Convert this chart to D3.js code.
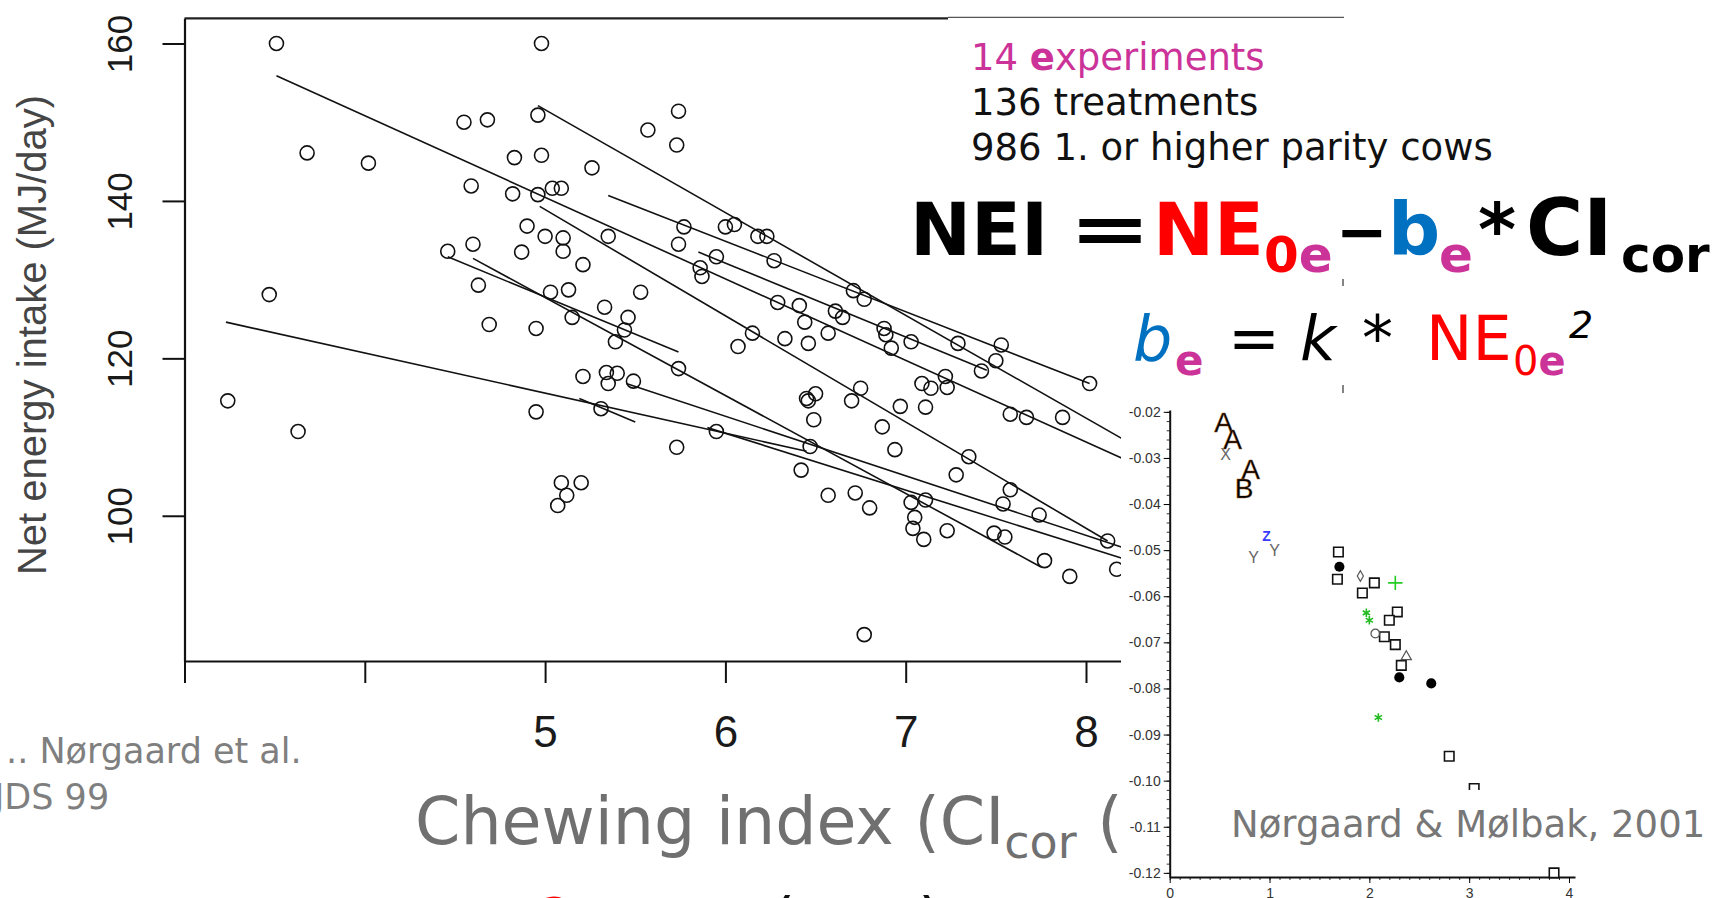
<!DOCTYPE html>
<html>
<head>
<meta charset="utf-8">
<script src="https://cdn.jsdelivr.net/npm/d3@7"></script>
<style>
  html, body { margin: 0; padding: 0; background: #fff; overflow: hidden; }
  svg { display: block; }
</style>
</head>
<body>
<div class="chart"></div>
<script>
// main plot: net energy intake vs chewing index, one circle per treatment
const ciValues = [
  3.51, 4.98, 3.68, 4.02, 3.47, 4.55, 4.68, 4.96, 5.57, 4.83, 4.98, 5.26, 4.59, 4.82, 4.96, 5.04, 5.09, 5.35, 4.90,
  5.00, 5.10, 5.10, 4.87, 4.46, 4.60, 5.21, 4.63, 5.03, 5.13, 5.53, 5.33, 5.46, 5.15, 4.69, 4.95, 5.44, 5.39,
  5.74, 5.73, 5.77, 5.74, 6.00, 6.05, 6.18, 6.23, 5.95, 6.27, 5.86, 5.87, 6.29, 6.41, 6.44, 6.61, 6.65, 6.71,
  6.77, 6.88, 6.89, 7.03, 7.29, 7.53, 6.15, 6.57, 6.33, 6.46, 6.07,
  6.92, 7.50, 8.02, 7.42, 7.22, 7.23, 7.09, 7.14, 7.11, 6.97, 6.75, 6.70, 7.58, 7.67, 7.87, 6.45, 6.50, 6.46,
  6.49, 6.87, 6.94, 7.35, 7.28, 7.58, 7.54, 7.74, 8.12, 8.17, 7.77, 7.91, 7.49, 7.55, 7.23, 7.10, 7.04, 7.05,
  7.03, 7.11, 6.80, 6.72, 6.57, 6.42, 6.47, 5.95, 5.73, 5.74, 6.77,
  3.24, 3.63, 4.95, 5.21, 5.34, 5.40, 5.35, 5.49, 5.31, 5.09, 5.20, 5.12, 5.07
];
const neiValues = [
  160.0, 160.0, 146.1, 144.8, 128.1, 150.0, 150.3, 150.9, 149.0, 145.5, 145.8, 144.2, 141.9, 140.9, 140.8, 141.6, 141.6, 135.5, 136.8,
  135.5, 135.3, 133.6, 133.5, 133.6, 134.5, 131.9, 129.3, 128.4, 128.7, 128.4, 126.5, 125.2, 125.2, 124.3, 123.8, 123.6, 122.1,
  151.4, 147.1, 136.7, 134.5, 136.7, 137.0, 135.5, 135.5, 132.9, 132.4, 131.5, 130.4, 127.1, 126.7, 124.6, 126.0, 125.2, 128.6,
  127.5, 123.8, 123.0, 122.1, 121.9, 121.7, 123.2, 123.2, 122.5, 121.9, 121.5,
  121.3, 119.7, 116.8, 118.4, 117.7, 116.3, 116.8, 116.2, 113.8, 113.9, 116.2, 114.6, 112.9, 112.5, 112.5, 114.9, 115.5, 114.6,
  112.2, 111.3, 108.4, 107.5, 105.2, 103.3, 101.5, 100.1, 96.8, 93.2, 94.3, 92.3, 97.8, 97.3, 98.1, 97.0, 98.4, 99.8,
  101.7, 102.0, 101.0, 102.9, 102.6, 105.8, 108.8, 110.7, 108.7, 118.7, 84.9,
  114.6, 110.7, 113.2, 117.7, 118.2, 118.1, 116.8, 117.1, 113.6, 104.2, 104.2, 102.6, 101.3
];
// within-experiment regressions: [ci start, nei start, ci end, nei end]
const fitLines = [
  [3.23, 124.6, 6.45, 108.2],
  [3.51, 155.9, 8.20, 107.3],
  [4.46, 132.9, 5.74, 120.8],
  [4.60, 132.7, 7.75, 93.5],
  [4.96, 152.1, 8.20, 109.8],
  [4.97, 139.3, 8.12, 96.8],
  [5.35, 140.7, 8.02, 116.8],
  [5.19, 114.9, 5.50, 111.9],
  [5.45, 116.8, 8.20, 96.0],
  [5.90, 111.2, 8.20, 94.6],
  [5.85, 133.5, 7.45, 118.5]
];
const neiTicks = [100, 120, 140, 160];
const ciTicks = [3, 4, 5, 6, 7, 8];
const ciTickLabels = ["", "", "5", "6", "7", "8"];

// inset: slope b vs NE0 (Nørgaard & Mølbak, 2001)
const insetLetters = [["A", 0.54, -0.0222], ["A", 0.63, -0.0258], ["A", 0.81, -0.0323], ["B", 0.745, -0.0366]];
const insetGreyLetters = [["X", 0.56, -0.0293], ["Y", 0.84, -0.0515], ["Y", 1.05, -0.0500]];
const insetBlueLetters = [["Z", 0.97, -0.0469]];
const insetSquares = [
  [1.69, -0.0504], [1.68, -0.0563], [1.93, -0.0593], [2.05, -0.0571], [2.28, -0.0634], [2.20, -0.0652],
  [2.15, -0.0688], [2.26, -0.0705], [2.32, -0.0750], [2.80, -0.0947], [3.05, -0.1017], [3.85, -0.1200]
];
const insetDots = [[1.70, -0.0536], [2.30, -0.0776], [2.62, -0.0789]];
const insetDiamonds = [[1.91, -0.0556]];
const insetRings = [[2.06, -0.0681]];
const insetTriangles = [[2.37, -0.0731]];
const insetPlus = [[2.26, -0.0571]];
const insetStars = [[1.97, -0.0636], [2.00, -0.0652], [2.09, -0.0863]];
const insetXTicks = [0, 1, 2, 3, 4];
const insetYTicks = [-0.02, -0.03, -0.04, -0.05, -0.06, -0.07, -0.08, -0.09, -0.10, -0.11, -0.12];

const magenta = "#cc3399", red = "#ff0000", blue = "#0070c0";

drawChart(document.querySelector(".chart"));

function drawChart(container) {
  let width = 1714, height = 898;
  let svg = d3.select(container).append("svg")
    .attr("width", width)
    .attr("height", height);
  svg.append("rect").attr("width", width).attr("height", height).attr("fill", "#fff");

  //scales of the main plot
  let x = d3.scaleLinear().domain([3, 8.2]).range([184.5, 184.5 + 5.2 * 180.3]);
  let y = d3.scaleLinear().domain([81.55, 163.2]).range([661, 18.3]);

  //box top
  svg.append("path")
    .attr("d", "M" + x(3) + "," + y(163.2) + "H948")
    .attr("stroke", "#222").attr("stroke-width", 2.2);
  svg.append("path")
    .attr("d", "M948," + (y(163.2) - 1) + "H1344")
    .attr("stroke", "#555").attr("stroke-width", 1.2);

  //fit lines
  svg.append("g").selectAll("line")
    .data(fitLines)
    .join("line")
    .attr("x1", function(d) { return x(d[0]); })
    .attr("y1", function(d) { return y(d[1]); })
    .attr("x2", function(d) { return x(d[2]); })
    .attr("y2", function(d) { return y(d[3]); })
    .attr("stroke", "#111")
    .attr("stroke-width", 1.6);

  //treatment means
  svg.append("g").selectAll("circle")
    .data(d3.zip(ciValues, neiValues))
    .join("circle")
    .attr("cx", function(d) { return x(d[0]); })
    .attr("cy", function(d) { return y(d[1]); })
    .attr("r", 7)
    .attr("fill", "none")
    .attr("stroke", "#111")
    .attr("stroke-width", 1.6);

  //x-axis
  let gx = svg.append("g")
    .attr("transform", "translate(0," + y(81.55) + ")")
    .call(d3.axisBottom(x)
      .tickValues(ciTicks)
      .tickSize(22)
      .tickSizeOuter(0)
      .tickPadding(33)
      .tickFormat(function(d, i) { return ciTickLabels[i]; }))
    .attr("font-family", "'Liberation Sans', Arial, sans-serif")
    .attr("font-size", 44);
  gx.select(".domain").attr("stroke", "#111").attr("stroke-width", 2.2);
  gx.selectAll(".tick line").attr("stroke", "#111").attr("stroke-width", 2);
  gx.selectAll(".tick text").attr("fill", "#1a1a1a");

  //y-axis
  let gy = svg.append("g")
    .attr("transform", "translate(" + x(3) + ",0)")
    .call(d3.axisLeft(y)
      .tickValues(neiTicks)
      .tickSize(22)
      .tickSizeOuter(0))
    .attr("font-family", "'Liberation Sans', Arial, sans-serif")
    .attr("font-size", 35);
  gy.select(".domain").attr("stroke", "#111").attr("stroke-width", 2.2);
  gy.selectAll(".tick line").attr("stroke", "#111").attr("stroke-width", 2);
  gy.selectAll(".tick text")
    .attr("transform", "rotate(-90)")
    .attr("x", 0)
    .attr("y", -53)
    .attr("dy", 0)
    .attr("text-anchor", "middle")
    .attr("fill", "#1a1a1a");

  svg.append("text")
    .attr("transform", "translate(46,335) rotate(-90)")
    .attr("text-anchor", "middle")
    .attr("font-family", "'Liberation Sans', Arial, sans-serif")
    .attr("font-size", 40)
    .attr("fill", "#454545")
    .text("Net energy intake (MJ/day)");

  //x title (runs under the inset)
  let xt = svg.append("text")
    .attr("x", 415).attr("y", 844)
    .attr("font-family", "'DejaVu Sans', Verdana, sans-serif")
    .attr("font-size", 65)
    .attr("fill", "#707070");
  xt.append("tspan").text("Chewing index (CI");
  xt.append("tspan").attr("font-size", 46).attr("dy", 14).text("cor");
  xt.append("tspan").attr("dy", -14).text(" (");

  //next line, only its top shows
  svg.append("text")
    .attr("x", 538).attr("y", 937)
    .attr("font-family", "'DejaVu Sans', Verdana, sans-serif")
    .attr("font-size", 56).attr("fill", red)
    .text("2");
  svg.append("text")
    .attr("x", 770).attr("y", 945)
    .attr("font-family", "'DejaVu Sans', Verdana, sans-serif")
    .attr("font-size", 65).attr("fill", "#111")
    .text("(");
  svg.append("text")
    .attr("x", 918).attr("y", 945)
    .attr("font-family", "'DejaVu Sans', Verdana, sans-serif")
    .attr("font-size", 65).attr("fill", "#111")
    .text(")");

  //source, bottom left
  svg.append("text")
    .attr("x", 6).attr("y", 763)
    .attr("font-family", "'DejaVu Sans', Verdana, sans-serif")
    .attr("font-size", 35).attr("fill", "#7f7f7f")
    .text(".. Nørgaard et al.");
  svg.append("text")
    .attr("x", -6).attr("y", 809)
    .attr("font-family", "'DejaVu Sans', Verdana, sans-serif")
    .attr("font-size", 35).attr("fill", "#7f7f7f")
    .text("JDS 99");

  //inset
  drawInset(svg);

  //text block, top right
  let sans = "'DejaVu Sans', Verdana, sans-serif";
  let t1 = svg.append("text").attr("x", 971).attr("y", 70)
    .attr("font-family", sans).attr("font-size", 37).attr("fill", magenta);
  t1.append("tspan").text("14 ");
  t1.append("tspan").attr("font-weight", "bold").text("e");
  t1.append("tspan").text("xperiments");
  svg.append("text").attr("x", 971).attr("y", 115)
    .attr("font-family", sans).attr("font-size", 37).attr("fill", "#111")
    .text("136 treatments");
  svg.append("text").attr("x", 971).attr("y", 160)
    .attr("font-family", sans).attr("font-size", 37).attr("fill", "#111")
    .text("986 1. or higher parity cows");

  //NEI = NE0e - be * CIcor
  let eq = svg.append("g").attr("font-family", sans).attr("font-weight", "bold");
  eq.append("text").attr("x", 910).attr("y", 255).attr("font-size", 73).attr("fill", "#000").text("NEI");
  eq.append("text").attr("transform", "translate(1069,253) scale(1.4,1)")
    .attr("font-size", 70).attr("fill", "#000").text("=");
  eq.append("text").attr("x", 1153).attr("y", 255).attr("font-size", 73).attr("fill", red).text("NE");
  let s1 = eq.append("text").attr("x", 1264).attr("y", 272).attr("font-size", 50);
  s1.append("tspan").attr("fill", red).text("0");
  s1.append("tspan").attr("fill", magenta).text("e");
  eq.append("text").attr("x", 1336).attr("y", 253).attr("font-size", 62).attr("fill", "#000").text("\u2212");
  eq.append("text").attr("x", 1388).attr("y", 255).attr("font-size", 73).attr("fill", blue).text("b");
  eq.append("text").attr("x", 1439).attr("y", 272).attr("font-size", 50).attr("fill", magenta).text("e");
  eq.append("text").attr("x", 1478).attr("y", 255).attr("font-size", 73).attr("fill", "#000").text("*");
  eq.append("text").attr("x", 1526).attr("y", 255).attr("font-size", 78).attr("fill", "#000").text("CI");
  eq.append("text").attr("x", 1621).attr("y", 272).attr("font-size", 50).attr("fill", "#000").text("cor");

  //be = k * NE0e^2
  let eq2 = svg.append("g").attr("font-family", sans);
  eq2.append("text").attr("x", 1133).attr("y", 360).attr("font-size", 62).attr("font-style", "italic").attr("fill", blue).text("b");
  eq2.append("text").attr("x", 1175).attr("y", 375).attr("font-size", 42).attr("font-weight", "bold").attr("fill", magenta).text("e");
  eq2.append("text").attr("x", 1228).attr("y", 360).attr("font-size", 62).attr("fill", "#000").text("=");
  eq2.append("text").attr("x", 1300).attr("y", 360).attr("font-size", 62).attr("font-style", "italic").attr("fill", "#000").text("k");
  eq2.append("text").attr("x", 1362).attr("y", 360).attr("font-size", 62).attr("fill", "#000").text("*");
  eq2.append("text").attr("x", 1426).attr("y", 360).attr("font-size", 62).attr("fill", red).text("NE");
  let s2 = eq2.append("text").attr("x", 1513).attr("y", 375).attr("font-size", 40);
  s2.append("tspan").attr("fill", red).text("0");
  s2.append("tspan").attr("font-weight", "bold").attr("fill", magenta).text("e");
  eq2.append("text").attr("x", 1569).attr("y", 338).attr("font-size", 38).attr("font-style", "italic").attr("fill", "#000").text("2");

  //edge marks of the pasted box
  svg.append("path").attr("d", "M1343,279V286M1343,385V393").attr("stroke", "#333").attr("stroke-width", 1.2);
}

function drawInset(svg) {
  svg.append("rect")
    .attr("x", 1121).attr("y", 395)
    .attr("width", 593).attr("height", 503)
    .attr("fill", "#fff");

  let ix = d3.scaleLinear().domain([0, 4.06]).range([1169.7, 1575]);
  let iy = d3.scaleLinear().domain([-0.1209, -0.0196]).range([877, 410]);
  let font = "'Liberation Sans', Arial, sans-serif";

  //minor ticks
  svg.append("g")
    .attr("transform", "translate(" + ix(0) + ",0)")
    .call(d3.axisLeft(iy).tickValues(d3.range(-0.12, -0.0195, 0.002)).tickSize(3).tickFormat(""))
    .call(function(g) { g.select(".domain").remove(); })
    .selectAll("line").attr("stroke", "#333");
  svg.append("g")
    .attr("transform", "translate(0," + iy(-0.1209) + ")")
    .call(d3.axisBottom(ix).tickValues(d3.range(0, 4.05, 0.1)).tickSize(3).tickFormat(""))
    .call(function(g) { g.select(".domain").remove(); })
    .selectAll("line").attr("stroke", "#333");

  let gy = svg.append("g")
    .attr("transform", "translate(" + ix(0) + ",0)")
    .call(d3.axisLeft(iy).tickValues(insetYTicks).tickSize(6).tickPadding(3).tickSizeOuter(0)
      .tickFormat(function(d) { return d.toFixed(2); }))
    .attr("font-family", font).attr("font-size", 14);
  gy.select(".domain").attr("stroke", "#111").attr("stroke-width", 2);
  gy.selectAll(".tick text").attr("fill", "#333");

  let gx = svg.append("g")
    .attr("transform", "translate(0," + iy(-0.1209) + ")")
    .call(d3.axisBottom(ix).tickValues(insetXTicks).tickSize(6).tickPadding(5).tickSizeOuter(0)
      .tickFormat(function(d) { return String(d); }))
    .attr("font-family", font).attr("font-size", 14);
  gx.select(".domain").attr("stroke", "#111").attr("stroke-width", 2);
  gx.selectAll(".tick text").attr("fill", "#333");

  let sym = function(type, size) { return d3.symbol().type(type).size(size)(); };
  let place = function(d) { return "translate(" + ix(d[0]) + "," + iy(d[1]) + ")"; };
  let placeL = function(d) { return "translate(" + ix(d[1]) + "," + iy(d[2]) + ")"; };

  svg.append("g").selectAll("path").data(insetSquares).join("path")
    .attr("d", sym(d3.symbolSquare, 90)).attr("transform", place)
    .attr("fill", "#fff").attr("stroke", "#111").attr("stroke-width", 1.6);
  svg.append("g").selectAll("path").data(insetDots).join("path")
    .attr("d", sym(d3.symbolCircle, 80)).attr("transform", place)
    .attr("fill", "#000");
  svg.append("g").selectAll("path").data(insetDiamonds).join("path")
    .attr("d", sym(d3.symbolDiamond, 32)).attr("transform", place)
    .attr("fill", "none").attr("stroke", "#555").attr("stroke-width", 1.2);
  svg.append("g").selectAll("path").data(insetRings).join("path")
    .attr("d", sym(d3.symbolCircle, 60)).attr("transform", place)
    .attr("fill", "none").attr("stroke", "#555").attr("stroke-width", 1.2);
  svg.append("g").selectAll("path").data(insetTriangles).join("path")
    .attr("d", sym(d3.symbolTriangle, 45)).attr("transform", place)
    .attr("fill", "none").attr("stroke", "#555").attr("stroke-width", 1.2);
  svg.append("g").selectAll("path").data(insetPlus).join("path")
    .attr("d", sym(d3.symbolPlus || d3.symbolCross, 70)).attr("transform", place)
    .attr("fill", "none").attr("stroke", "#22cc22").attr("stroke-width", 1.6);
  svg.append("g").selectAll("path").data(insetStars).join("path")
    .attr("d", sym(d3.symbolAsterisk || d3.symbolCross, 50)).attr("transform", place)
    .attr("fill", "none").attr("stroke", "#22bb22").attr("stroke-width", 1.6);

  svg.append("g").selectAll("text").data(insetLetters).join("text")
    .attr("transform", placeL).attr("text-anchor", "middle").attr("dy", "0.36em")
    .attr("font-family", font).attr("font-size", 28)
    .attr("fill", "#000").attr("stroke", "#a0581a").attr("stroke-width", 0.4)
    .text(function(d) { return d[0]; });
  svg.append("g").selectAll("text").data(insetGreyLetters).join("text")
    .attr("transform", placeL).attr("text-anchor", "middle").attr("dy", "0.36em")
    .attr("font-family", font).attr("font-size", 16).attr("fill", "#666")
    .text(function(d) { return d[0]; });
  svg.append("g").selectAll("text").data(insetBlueLetters).join("text")
    .attr("transform", placeL).attr("text-anchor", "middle").attr("dy", "0.36em")
    .attr("font-family", font).attr("font-size", 14).attr("font-weight", "bold").attr("fill", "#3a3aff")
    .text(function(d) { return d[0]; });

  //citation box over the inset
  svg.append("rect")
    .attr("x", 1182).attr("y", 790)
    .attr("width", 532).attr("height", 60)
    .attr("fill", "#fff");
  svg.append("text")
    .attr("x", 1231).attr("y", 837)
    .attr("font-family", "'DejaVu Sans', Verdana, sans-serif")
    .attr("font-size", 37).attr("fill", "#777")
    .text("Nørgaard & Mølbak, 2001");
}
</script>
</body>
</html>
